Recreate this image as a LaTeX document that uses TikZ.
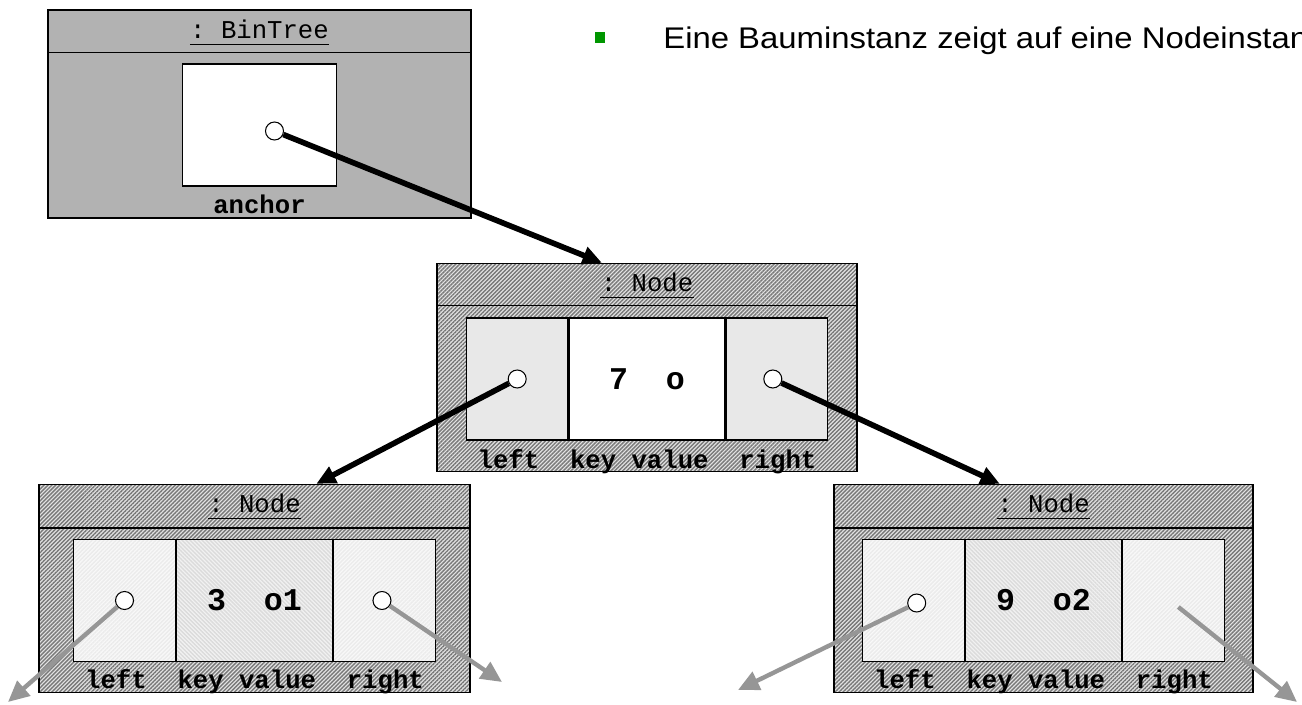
\documentclass[tikz,border=0pt]{standalone}
\usepackage{fontspec}
\setmainfont{Liberation Sans}
\setmonofont{Liberation Mono}
\newfontfamily\slidefont[FakeStretch=1.1]{Liberation Sans}
\usepackage{xcolor}
\usepackage{tikz}
\usetikzlibrary{calc, patterns, patterns.meta, arrows.meta, positioning}

\definecolor{treegray}{RGB}{178,178,178}
\definecolor{slotgray}{RGB}{232,232,232}
\definecolor{hatchgray}{RGB}{120,120,120}
\definecolor{arrowgray}{RGB}{150,150,150}
\definecolor{bulletgreen}{RGB}{0,150,0}

\begin{document}
\begin{tikzpicture}
            % Block styles
            \tikzstyle{object} = [rectangle, draw, line width=0.8pt, minimum width=8.42cm, minimum height=4.16cm, inner sep=0pt]
            \tikzstyle{hatched} = [preaction={fill=gray!22}, pattern={Lines[angle=45, distance=1.6pt, line width=0.8pt]}, pattern color=hatchgray]
            \tikzstyle{slot} = [rectangle, draw, line width=0.6pt, minimum width=2.03cm, minimum height=2.44cm, inner sep=0pt]
            \tikzstyle{keyslot} = [slot, minimum width=3.12cm, font=\ttfamily\bfseries\fontsize{18}{20}\selectfont]
            \tikzstyle{faint} = [preaction={fill=gray!5}, pattern={Lines[angle=45, distance=1.6pt, line width=0.8pt]}, pattern color=gray!16]
            \tikzstyle{faintkey} = [preaction={fill=gray!10}, pattern={Lines[angle=-45, distance=1.6pt, line width=0.8pt]}, pattern color=gray!28]
            \tikzstyle{title} = [inner sep=0pt, anchor=base, font=\ttfamily\fontsize{14.6}{16}\selectfont]
            \tikzstyle{fields} = [inner sep=0pt, anchor=base, font=\ttfamily\bfseries\fontsize{14.6}{16}\selectfont]
            \tikzstyle{ptr} = [circle, draw, fill=white, line width=0.6pt, minimum size=0.36cm, inner sep=0pt]
            \tikzstyle{link} = [line width=3.2pt, -{Triangle[length=11pt, width=10pt]}]
            \tikzstyle{openlink} = [line width=2.5pt, draw=arrowgray, -{Triangle[length=12pt, width=11pt]}, arrowgray]

            \useasboundingbox (0,0) rectangle (26.04,14.08);
            \clip (0,0) rectangle (26.04,14.08);

            % Bullet text
            \node[fill=bulletgreen, minimum width=0.19cm, minimum height=0.21cm, inner sep=0pt] (bullet) at (12.0,13.33) {};
            \node[anchor=base west, inner sep=0pt, font=\slidefont\fontsize{17}{19}\selectfont] (caption) at (13.26,13.10) {Eine Bauminstanz zeigt auf eine Nodeinstanz};

            % BinTree instance
            \node[object, fill=treegray, minimum width=8.46cm] (tree) at (5.19,11.80) {};
            \draw[line width=0.8pt] ([yshift=-0.86cm]tree.north west) -- ([yshift=-0.86cm]tree.north east);
            \node[title] (treetitle) at ([yshift=-0.58cm]tree.north) {: BinTree};
            \draw[line width=0.6pt] ([yshift=-3.4pt]treetitle.base west) -- ([yshift=-3.4pt]treetitle.base east);
            \node[slot, fill=white, minimum width=3.08cm] (anchorslot) at ([yshift=-0.22cm]tree.center) {};
            \node[fields] at ([yshift=0.10cm]tree.south) {anchor};
            \node[ptr] (treeptr) at ([xshift=0.30cm, yshift=-0.12cm]anchorslot.center) {};

            % Root node
            \node[object, hatched, minimum width=8.40cm] (root) at (12.94,6.73) {};
            \draw[line width=0.8pt] ([yshift=-0.86cm]root.north west) -- ([yshift=-0.86cm]root.north east);
            \node[title] (roottitle) at ([yshift=-0.57cm]root.north) {: Node};
            \draw[line width=0.6pt] ([yshift=-3.4pt]roottitle.base west) -- ([yshift=-3.4pt]roottitle.base east);
            \node[keyslot, fill=white] (rootkey) at ([yshift=-0.23cm]root.center) {7~~o};
            \node[slot, fill=slotgray, left=0pt of rootkey] (rootleft) {};
            \node[slot, fill=slotgray, right=0pt of rootkey] (rootright) {};
            \node[fields] at ([yshift=0.08cm]root.south) {left~~key~value~~right};
            \node[ptr] (rootleftptr) at (rootleft.center) {};
            \node[ptr] (rootrightptr) at ([xshift=-0.08cm]rootright.center) {};

            % Left child
            \node[object, hatched, minimum width=8.62cm] (lchild) at (5.09,2.31) {};
            \draw[line width=0.8pt] ([yshift=-0.88cm]lchild.north west) -- ([yshift=-0.88cm]lchild.north east);
            \node[title] (lchildtitle) at ([yshift=-0.57cm]lchild.north) {: Node};
            \draw[line width=0.6pt] ([yshift=-3.4pt]lchildtitle.base west) -- ([yshift=-3.4pt]lchildtitle.base east);
            \node[keyslot, faintkey] (lchildkey) at ([yshift=-0.24cm]lchild.center) {3~~o1};
            \node[slot, faint, left=0pt of lchildkey] (lchildleft) {};
            \node[slot, faint, right=0pt of lchildkey] (lchildright) {};
            \node[fields] at ([yshift=0.10cm]lchild.south) {left~~key~value~~right};
            \node[ptr] (lchildleftptr) at (lchildleft.center) {};
            \node[ptr] (lchildrightptr) at ([xshift=-0.05cm]lchildright.center) {};

            % Right child
            \node[object, hatched, minimum width=8.38cm] (rchild) at (20.87,2.31) {};
            \draw[line width=0.8pt] ([yshift=-0.88cm]rchild.north west) -- ([yshift=-0.88cm]rchild.north east);
            \node[title] (rchildtitle) at ([yshift=-0.57cm]rchild.north) {: Node};
            \draw[line width=0.6pt] ([yshift=-3.4pt]rchildtitle.base west) -- ([yshift=-3.4pt]rchildtitle.base east);
            \node[keyslot, faintkey] (rchildkey) at ([yshift=-0.24cm]rchild.center) {9~~o2};
            \node[slot, faint, left=0pt of rchildkey] (rchildleft) {};
            \node[slot, faint, right=0pt of rchildkey] (rchildright) {};
            \node[fields] at ([yshift=0.10cm]rchild.south) {left~~key~value~~right};
            \node[ptr] (rchildleftptr) at ([xshift=0.06cm, yshift=-0.05cm]rchildleft.center) {};
            \coordinate (rchildrightptr) at ([xshift=0.10cm, yshift=-0.13cm]rchildright.center);

            % Open ends
            \coordinate (lnil1) at (0.16,0.04);
            \coordinate (lnil2) at (10.04,0.44);
            \coordinate (rnil1) at (14.76,0.28);
            \coordinate (rnil2) at (25.94,0.04);

            % Connections
            \draw[link] (treeptr) -- ($(root.north west)!0.393!(root.north east)$);
            \draw[link] (rootleftptr) -- ($(lchild.north west)!0.643!(lchild.north east)$);
            \draw[link] (rootrightptr) -- ($(rchild.north west)!0.396!(rchild.north east)$);
            \draw[openlink] (lchildleftptr) -- (lnil1);
            \draw[openlink] (lchildrightptr) -- (lnil2);
            \draw[openlink] (rchildleftptr) -- (rnil1);
            \draw[openlink] (rchildrightptr) -- (rnil2);
        \end{tikzpicture}
\end{document}
